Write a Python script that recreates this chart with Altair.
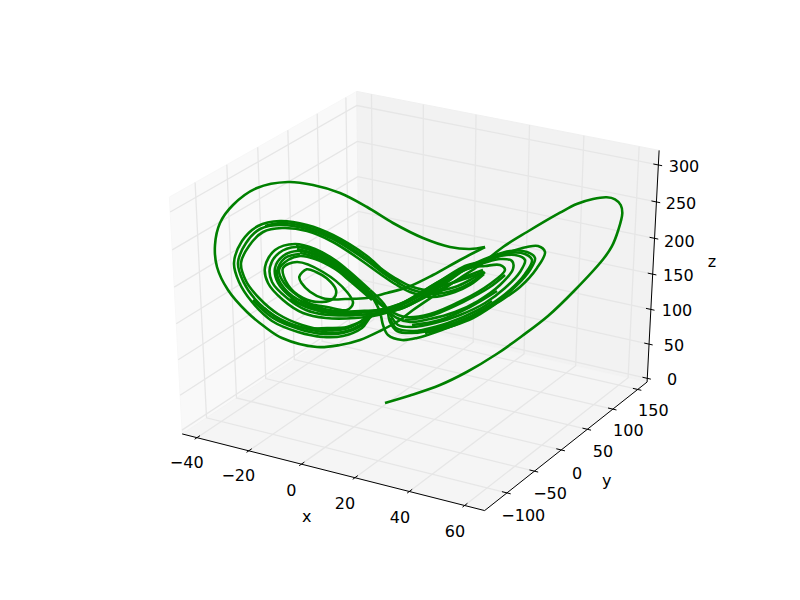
import numpy as np
import pandas as pd
import altair as alt

# Axis limits and ticks (data units)
x_lim = (-43.5, 64.9)
y_lim = (-133.5, 163.0)
z_lim = (1.0, 313.0)
x_ticks = [-40, -20, 0, 20, 40, 60]
y_ticks = [-100, -50, 0, 50, 100, 150]
z_ticks = [0, 50, 100, 150, 200, 250, 300]

# Tick labels: text, picture x, picture y
x_labels = ["\u221240", "\u221220", "0", "20", "40", "60"]
x_label_px = [186.7, 238.3, 291.3, 345, 400, 455]
x_label_py = [463.3, 476, 490.7, 504.3, 518.3, 532.3]
y_labels = ["\u2212100", "\u221250", "0", "50", "100", "150"]
y_label_px = [523.3, 550, 577, 603, 628.3, 653.3]
y_label_py = [516, 494.3, 473.7, 452.3, 431.3, 411.3]
z_labels = ["0", "50", "100", "150", "200", "250", "300"]
z_label_px = [672, 674, 677, 678.3, 679.3, 681, 684]
z_label_py = [380, 346, 311, 276, 241.7, 204.3, 167.3]
axis_names = ["x", "y", "z"]
axis_name_px = [306.7, 606.7, 712]
axis_name_py = [516.7, 480.7, 262.3]

# The trajectory as seen in the picture, one list per traced stretch
climb = [(385,403),(410,395.5),(440,385),(466.7,372),(496.7,354),(522,336),(548,316),(575,290),(603.3,259),(611.7,246.7),(618.3,230),(622.3,213.3),(620.7,205),(615,199.3),(606.7,197.3),(593,199),(576.7,204),(560,212.7),(527,232),(503,247),(480,265),(460,278),(438,293),(413,310),(400,320),(380,331),(360,340),(340,345),(317,347),(282,338),(265,327),(247,312),(228,290),(217,267),(215,245),(220,223),(233,205),(257,188),(288,182),(313,185),(340,193),(367,207),(393,223),(423,238),(450,247),(470,249),(485,247)]
inner = [(485,247),(460,260),(433,275),(408,287),(387,293),(367,298),(345,299),(335,299.5),(323,298.3),(310,291.7),(301.7,283.3),(299.3,276.7),(306.7,269.3),(316,272),(326.7,278.3),(336,290),(334,298),(322,302),(303,298),(288,285),(283,268),(297,262),(323,272),(347,292),(353,303),(347,310),(327,307),(303,302),(284,288),(277,272),(285,258),(300,254)]
ring_b4 = [(372,300),(350,281),(335,269),(315,259),(300,256),(288,260),(279,270),(284,283),(298,296),(315,306),(335,311),(360,311),(378,310),(400,304),(440,283),(470,268),(485,266),(500,265),(505,270),(490,284),(463,300),(430,314),(405,317),(390,311),(372,298)]
ring_b3 = [(372,298),(350,278),(335,266),(315,255),(298,251),(283,256),(275,268),(278,283),(292,298),(310,308),(330,313),(355,312),(378,311),(400,304),(440,281),(470,265),(480,264),(500,259),(512,261),(513,269),(500,285),(478,301),(455,312),(430,319),(410,322),(397,318),(385,308),(370,293)]
ring_b2 = [(370,293),(350,275),(335,263),(315,252),(296,247),(279,253),(270,267),(272,282),(287,298),(306,310),(328,315),(355,315),(378,313),(400,306),(440,284),(465,268),(475,264),(495,257),(515,255),(525,260),(520,272),(505,288),(485,303),(460,315),(435,323),(412,327),(398,325),(391,316),(384,304),(370,290)]
ring_b1 = [(370,290),(350,272),(335,260),(315,249),(295,244),(275,250),(265,267),(268,283),(283,300),(303,313),(326,318),(355,318),(378,315),(403,307),(440,286),(460,272),(477,265),(490,260),(507,253),(527,247),(538,246),(545,252),(537,268),(520,287),(497,303),(473,318),(447,328),(417,338),(402,340),(388,335),(383,325),(380,312),(373,298)]
ring_a1 = [(483,272),(470,280),(455,287),(433,291),(410,286),(395,278),(383,270),(367,256),(333,235),(307,225),(280,221),(258,226),(242,241),(234,263),(239,282),(252,302),(272,321),(298,332),(323,337),(343,336),(362,328),(372,316),(403,308),(440,287),(470,266),(490,257),(510,251),(527,252),(535,258),(530,270),(515,287),(495,303),(470,317),(440,328),(412,333),(397,331),(390,322),(388,312)]
ring_a2 = [(485,272),(470,283),(455,290),(433,294),(410,289),(395,281),(383,273),(366,260),(333,239),(307,229),(281,225),(260,229),(246,243),(238,263),(243,281),(255,299),(275,316),(300,327),(323,332),(343,332),(360,325),(370,316),(400,309),(435,292),(460,279),(483,270)]
ring_a3 = [(484,274),(470,285),(455,292),(433,297),(410,292),(395,284),(383,276),(365,263),(333,242),(307,231),(282,228),(263,232),(249,246),(241,263),(246,281),(259,298),(278,314),(302,325),(325,330),(345,329),(360,322),(368,315)]
fill_lower_a = [(253,300),(273,318),(299,329),(323,334),(343,333),(361,326),(369,318)]
fill_lower_b = [(264,308),(282,321),(305,328),(327,328),(347,327),(362,321)]
fill_upper_a = [(400,284),(383,271),(366,258),(333,237),(307,227),(281,223),(265,226)]
fill_upper_b1 = [(372,295),(352,276),(335,261),(315,250),(296,246)]
fill_upper_b2 = [(370,296),(352,279),(335,264),(315,254),(297,249)]
fill_upper_b3 = [(366,292),(345,275),(335,268),(315,257),(300,253)]
fill_lower_b1 = [(290,299),(306,307),(328,312),(355,313)]
fill_lower_b2 = [(300,301),(315,308),(335,313),(362,314)]
fill_lower_b3 = [(320,311),(345,315),(372,314)]
ring_r1b = [(468,268),(488,259),(508,253),(525,254),(532,260),(525,274),(510,290),(490,305),(465,319),(437,328),(412,331),(396,328),(390,318)]
fill_band_low = [(404,303),(440,281),(465,266),(480,262)]
fill_right_1 = [(505,275),(490,287),(463,302),(430,316),(405,320)]
fill_right_2 = [(497,291),(470,307),(440,320),(412,325)]
fill_right_3 = [(492,301),(478,310),(448,323),(418,331)]
fill_right_4 = [(505,297),(490,307),(455,325),(425,333)]
fill_blob = [(484,272),(470,277),(452,283),(433,288)]
trajectory = [climb, inner, ring_b4, ring_b3, ring_b2, ring_b1, ring_a1, ring_a2, ring_a3,
              fill_lower_a, fill_lower_b, fill_upper_a, fill_upper_b1, fill_upper_b2, fill_upper_b3,
              fill_lower_b1, fill_lower_b2, fill_lower_b3, ring_r1b, fill_band_low,
              fill_right_1, fill_right_2, fill_right_3, fill_right_4, fill_blob]

# Perspective view used by the picture: elevation 30, azimuth -60, distance 10
el, az, dist = np.radians(30), np.radians(-60), 10.0
n = np.array([np.cos(el)*np.cos(az), np.cos(el)*np.sin(az), np.sin(el)])
u = np.cross([0, 0, 1], n); u = u/np.linalg.norm(u)
v = np.cross(n, u)
pad = 1/48

def project(a, b, c):
    d = np.array([a, b, c]) - 0.5
    w = dist - d.dot(n)
    X, Y = d.dot(u)/w, d.dot(v)/w
    return 100 + 620*(X + 0.095)/0.185, 540 - 480*(Y + 0.095)/0.185

def nx(val): return (val - x_lim[0])/(x_lim[1] - x_lim[0])
def ny(val): return (val - y_lim[0])/(y_lim[1] - y_lim[0])
def nz(val): return (val - z_lim[0])/(z_lim[1] - z_lim[0])

lo, hi = -pad, 1 + pad

def table(paths):
    rows = []
    for g, path in enumerate(paths):
        for i, p in enumerate(path):
            px, py = project(*p)
            rows.append({"g": g, "i": i, "px": px, "py": py})
    return pd.DataFrame(rows)

pane_x = [[(lo,lo,lo),(lo,hi,lo),(lo,hi,hi),(lo,lo,hi),(lo,lo,lo)]]
pane_y = [[(lo,hi,lo),(hi,hi,lo),(hi,hi,hi),(lo,hi,hi),(lo,hi,lo)]]
pane_z = [[(lo,lo,lo),(hi,lo,lo),(hi,hi,lo),(lo,hi,lo),(lo,lo,lo)]]

grid = []
for t in x_ticks:
    a = nx(t); grid.append([(a,lo,lo),(a,hi,lo),(a,hi,hi)])
for t in y_ticks:
    b = ny(t); grid.append([(hi,b,lo),(lo,b,lo),(lo,b,hi)])
for t in z_ticks:
    c = nz(t); grid.append([(lo,lo,c),(lo,hi,c),(hi,hi,c)])

inward, outward = 0.0167, 0.0125
ticks = []
for t in x_ticks:
    a = nx(t); ticks.append([(a,lo-outward,lo),(a,lo+inward,lo)])
for t in y_ticks:
    b = ny(t); ticks.append([(hi-inward,b,lo),(hi+outward,b,lo)])
for t in z_ticks:
    c = nz(t); ticks.append([(hi-inward,hi,c),(hi+outward,hi,c)])

spines = [[(lo,lo,lo),(hi,lo,lo)], [(hi,lo,lo),(hi,hi,lo)], [(hi,hi,lo),(hi,hi,hi)]]

sx = alt.Scale(domain=[8, 792], range=[0, 784], nice=False, zero=False)
sy = alt.Scale(domain=[592, 8], range=[584, 0], nice=False, zero=False)
X = alt.X("px:Q", scale=sx, axis=None)
Y = alt.Y("py:Q", scale=sy, axis=None)


def paths(df, **mark):
    return alt.Chart(df).mark_line(**mark).encode(
        x=X, y=Y, detail="g:N", order="i:Q")


traj_df = pd.DataFrame([
    {"g": g, "i": i, "px": p[0], "py": p[1]}
    for g, seg in enumerate(trajectory) for i, p in enumerate(seg)
])

label_df = pd.DataFrame({
    "px": x_label_px + y_label_px + z_label_px + axis_name_px,
    "py": x_label_py + y_label_py + z_label_py + axis_name_py,
    "t": x_labels + y_labels + z_labels + axis_names,
})

layers = [
    paths(table(pane_x), fill="#f9f9f9", stroke="#f7f7f7", strokeWidth=1),
    paths(table(pane_y), fill="#f2f2f2", stroke="#f0f0f0", strokeWidth=1),
    paths(table(pane_z), fill="#f5f5f5", stroke="#f3f3f3", strokeWidth=1),
    paths(table(grid), stroke="#e6e6e6", strokeWidth=1.3),
    paths(table(spines), stroke="#000000", strokeWidth=1),
    paths(table(ticks), stroke="#000000", strokeWidth=1),
    alt.Chart(traj_df).mark_line(stroke="#008000", strokeWidth=2.6, interpolate="catmull-rom").encode(
        x=X, y=Y, detail="g:N", order="i:Q"),
    alt.Chart(label_df).mark_text(font="DejaVu Sans", fontSize=16, color="#000000",
                                  align="center", baseline="middle").encode(x=X, y=Y, text="t:N"),
]

chart = alt.layer(*layers).properties(
    width=784, height=584, padding=0,
    autosize=alt.AutoSizeParams(type="none"),
).configure_view(stroke=None)

chart.save("out.html", embed_options={"renderer": "svg", "actions": False})
